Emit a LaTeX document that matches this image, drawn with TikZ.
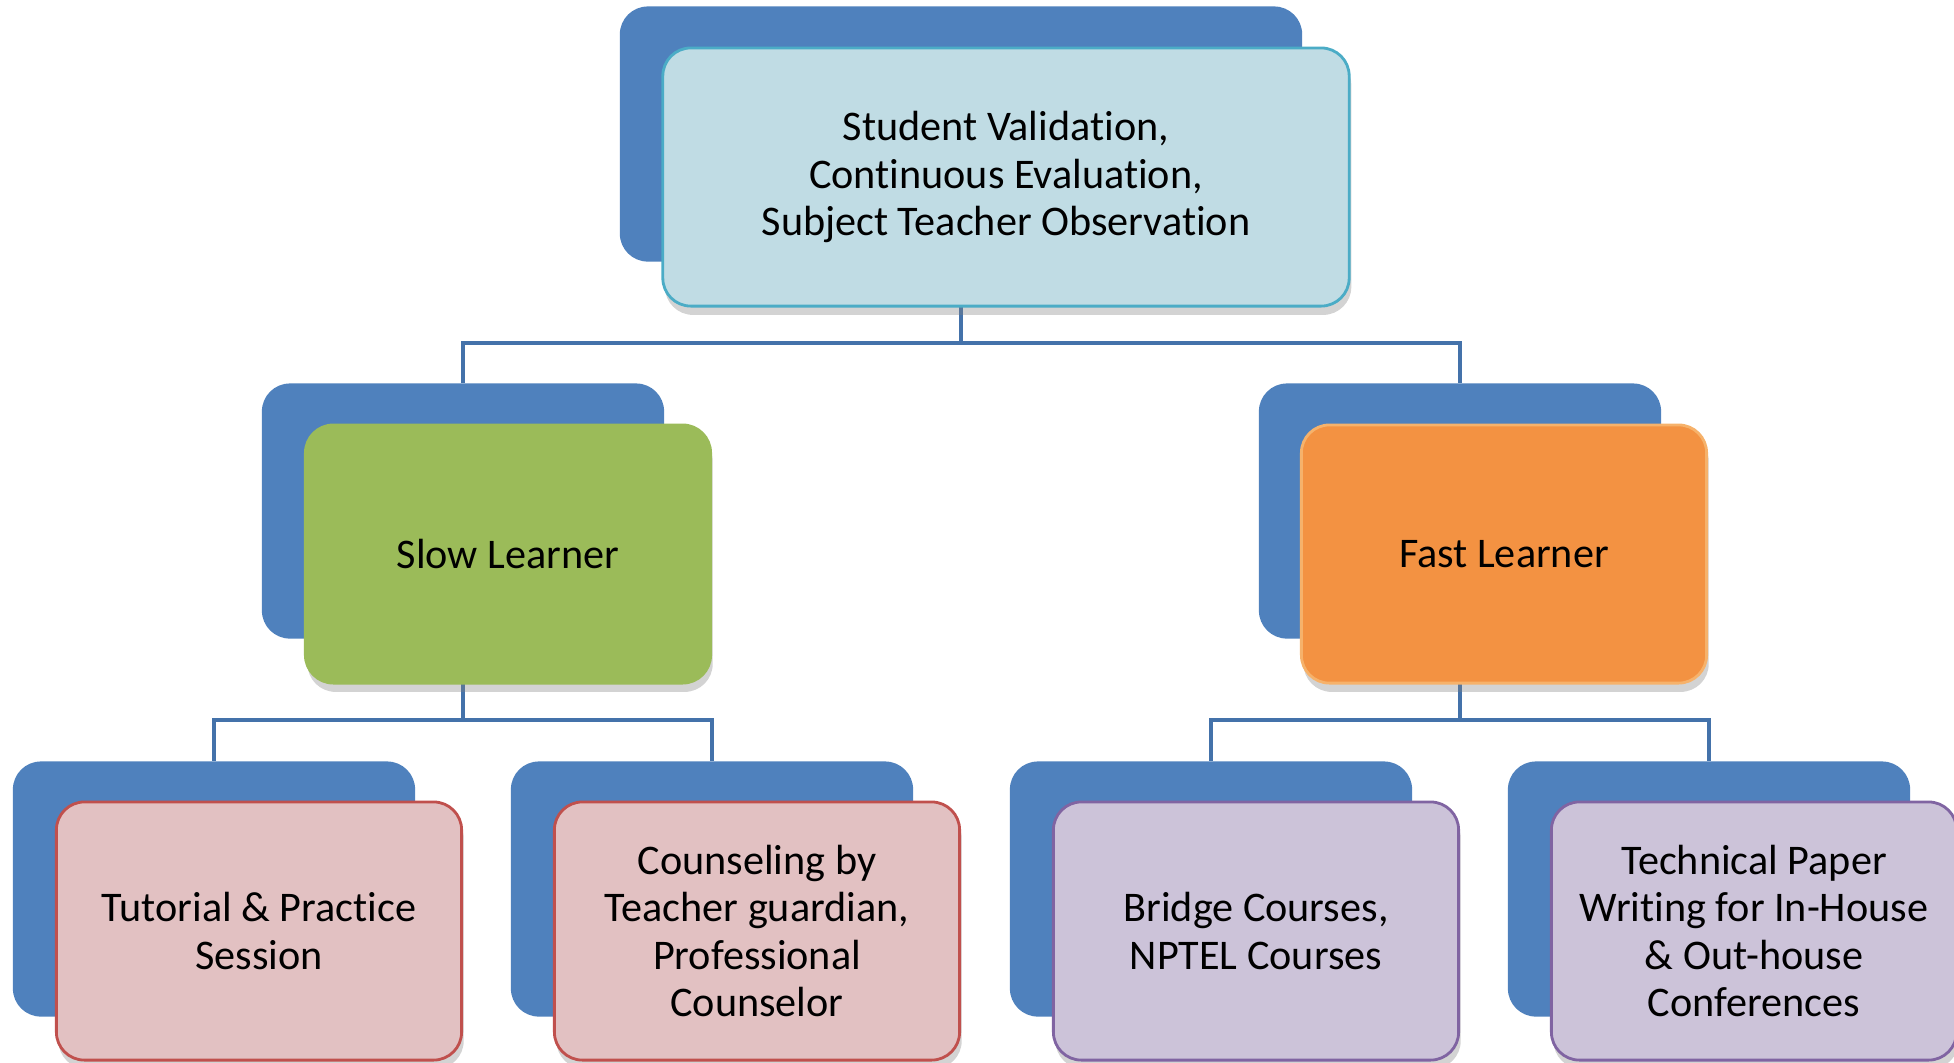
\documentclass[tikz,border=0pt]{standalone}
\usepackage{fontspec}
\setmainfont{Carlito}[Ligatures=NoCommon]
\usetikzlibrary{positioning,shadows,backgrounds}
\definecolor{backblue}{HTML}{4F81BD}
\definecolor{linkblue}{HTML}{4472AA}
\definecolor{topfill}{HTML}{C0DCE4}
\definecolor{topline}{HTML}{4BACC6}
\definecolor{slowfill}{HTML}{9BBB59}
\definecolor{fastfill}{HTML}{F39242}
\definecolor{fastline}{HTML}{F6B26B}
\definecolor{pinkfill}{HTML}{E2C1C2}
\definecolor{pinkline}{HTML}{C0504D}
\definecolor{lilacfill}{HTML}{CCC3D9}
\definecolor{lilacline}{HTML}{8064A2}
\tikzstyle{link}= [draw=linkblue, line width=1pt]

\begin{document}
\begin{tikzpicture}[
		x=0.01cm, y=-0.01cm,
    backbox/.style={
    fill=backblue, rounded corners=0.28cm,
    minimum width=4.02cm, minimum height=2.55cm,
    },
    frontbox/.style={
    rounded corners=0.28cm, line width=0.8pt,
    minimum width=4.05cm, minimum height=2.58cm,
    align=center, font=\fontsize{12}{13.4}\selectfont,
    drop shadow={shadow xshift=0.6pt, shadow yshift=-2.5pt, opacity=0.35},
    }
	]
  \useasboundingbox (0,0) rectangle (1954,1062);

  % top level
  \node[backbox,minimum width=6.82cm] (topback) at (961,134) {};
  \node[frontbox,minimum width=6.86cm,fill=topfill,draw=topline] (top) at (1006,177) {Student Validation,\\Continuous Evaluation,\\Subject Teacher Observation};

  % middle level
  \node[backbox] (slowback) at (463,511) {};
  \node[frontbox,fill=slowfill,draw=slowfill] (slow) at (508,554) {Slow Learner};
  \node[backbox] (fastback) at (1460,511) {};
  \node[frontbox,fill=fastfill,draw=fastline] (fast) at (1504,554) {Fast Learner};

  % bottom level
  \node[backbox] (tutback) at (214,889) {};
  \node[frontbox,fill=pinkfill,draw=pinkline] (tut) at (259,931) {Tutorial \& Practice\\Session};
  \node[backbox] (counback) at (712,889) {};
  \node[frontbox,fill=pinkfill,draw=pinkline] (coun) at (757,931) {Counseling by\\Teacher guardian,\\Professional\\Counselor};
  \node[backbox] (bridgeback) at (1211,889) {};
  \node[frontbox,fill=lilacfill,draw=lilacline] (bridge) at (1256,931) {Bridge Courses,\\NPTEL Courses};
  \node[backbox] (paperback) at (1709,889) {};
  \node[frontbox,fill=lilacfill,draw=lilacline] (paper) at (1754,931) {Technical Paper\\Writing for In-House\\\& Out-house\\Conferences};

  \coordinate (bar1) at (0,343);
  \coordinate (bar2) at (0,720);

  \begin{scope}[on background layer]
  \draw[link] (topback.south) -- (topback.south |- bar1) -| (slowback.north);
  \draw[link] (topback.south |- bar1) -| (fastback.north);
  \draw[link] (slowback.south) -- (slowback.south |- bar2) -| (tutback.north);
  \draw[link] (slowback.south |- bar2) -| (counback.north);
  \draw[link] (fastback.south) -- (fastback.south |- bar2) -| (bridgeback.north);
  \draw[link] (fastback.south |- bar2) -| (paperback.north);
  \end{scope}
\end{tikzpicture}
\end{document}
